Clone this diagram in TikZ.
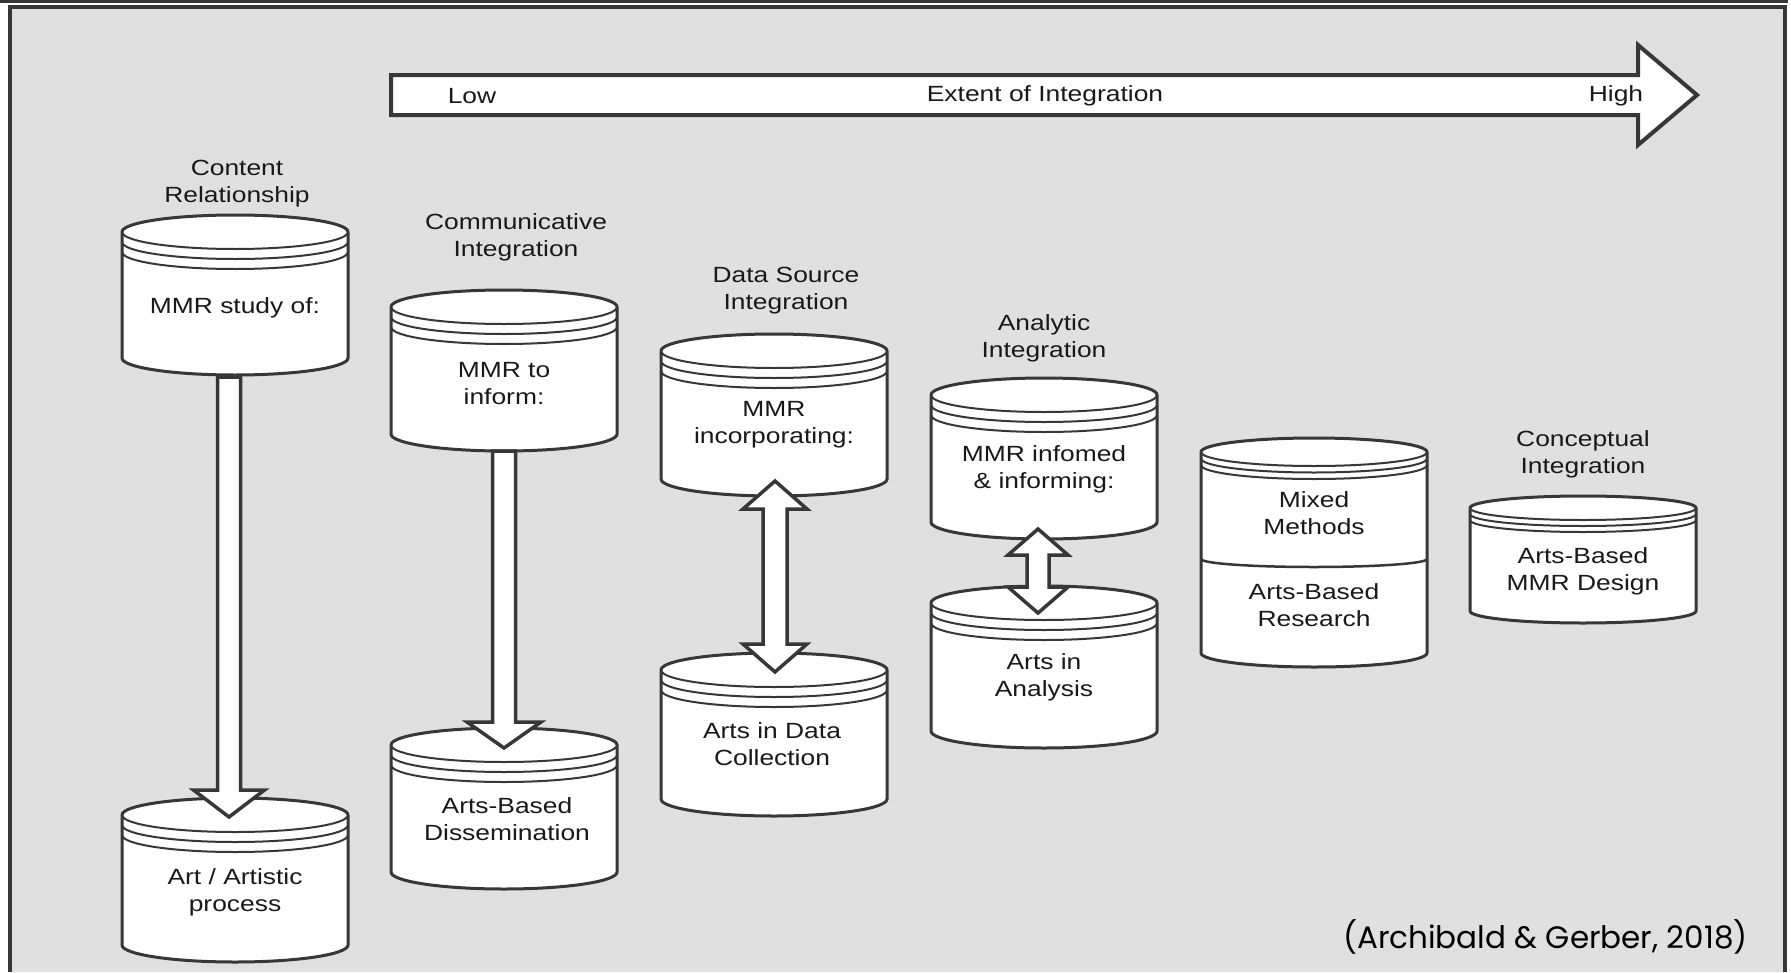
\documentclass[tikz,border=0pt]{standalone}
\usepackage{fontspec}
\setmainfont{Liberation Sans}[FakeStretch=1.2]
\newfontfamily\citefont{Poppins}
\usetikzlibrary{calc}

\definecolor{bggray}{RGB}{224,224,224}
\definecolor{linegray}{RGB}{55,55,55}
\definecolor{txtgray}{RGB}{25,25,25}

\tikzset{
  cylline/.style={draw=linegray, line width=3pt, fill=white},
  ringline/.style={draw=linegray, line width=2pt},
  blockarrow/.style={draw=linegray, line width=3.5pt, fill=white, line join=miter},
  lbl/.style={align=center, text=txtgray, inner sep=0pt,
    font=\fontsize{22}{27}\selectfont},
}

% name, centre x, top edge, bottom edge, ellipse radius, ring gap
\newcommand\cylinderat[6]{%
  \coordinate (#1-n) at (#2,#3);
  \coordinate (#1-s) at (#2,#4);
  \draw[cylline] (#2-113,#3+#5) arc[start angle=180,end angle=360,x radius=113,y radius=#5]
    -- (#2+113,#4-#5) arc[start angle=0,end angle=180,x radius=113,y radius=#5] -- cycle;
  \foreach \k in {0,1,2}
    \draw[ringline] (#2-113,#3+#5+\k*#6) arc[start angle=180,end angle=0,x radius=113,y radius=#5];
}
% from, tip, shaft half width, head half width, head length
\newcommand\blockdown[5]{%
  \draw[blockarrow] ($(#1)+(-#3,0)$) -- ($(#2)+(-#3,-#5)$) -- ($(#2)+(-#4,-#5)$) -- (#2)
    -- ($(#2)+(#4,-#5)$) -- ($(#2)+(#3,-#5)$) -- ($(#1)+(#3,0)$) -- cycle;
}
% upper tip, lower tip, shaft half width, head half width, head length
\newcommand\blockboth[5]{%
  \draw[blockarrow] (#1) -- ($(#1)+(#4,#5)$) -- ($(#1)+(#3,#5)$) -- ($(#2)+(#3,-#5)$)
    -- ($(#2)+(#4,-#5)$) -- (#2) -- ($(#2)+(-#4,-#5)$) -- ($(#2)+(-#3,-#5)$)
    -- ($(#1)+(-#3,#5)$) -- ($(#1)+(-#4,#5)$) -- cycle;
}

\begin{document}
\begin{tikzpicture}[x=1pt,y=-1pt]
  \useasboundingbox (0,0) rectangle (1791,972);
  % frame
  \fill[white] (0,0) rectangle (1791,972);
  \fill[linegray] (0,0) rectangle (1788,3);
  \fill[bggray] (10,7) rectangle (1785,972);
  \draw[linegray, line width=4pt] (10,972) -- (10,7) -- (1785,7) -- (1785,972);

  % scale arrow
  \coordinate (scalelow) at (391,95);
  \coordinate (scalehigh) at (1697,95);
  \draw[blockarrow, line width=4pt] ($(scalelow)+(0,-20)$) -- ($(scalehigh)+(-59,-20)$)
    -- ($(scalehigh)+(-59,-50)$) -- (scalehigh) -- ($(scalehigh)+(-59,50)$)
    -- ($(scalehigh)+(-59,20)$) -- ($(scalelow)+(0,20)$) -- cycle;
  \node[lbl] (low) at (472,96) {Low};
  \node[lbl] (extent) at (1045,96) {Extent of Integration};
  \node[lbl] (high) at (1616,96) {High};

  % cylinders
  \cylinderat{study}{235}{215}{375}{17}{10}
  \cylinderat{art}{235}{798}{962}{17}{10}
  \cylinderat{inform}{504}{290}{451}{17}{10}
  \cylinderat{dissem}{504}{728}{889}{17}{10}
  \cylinderat{incorp}{774}{334}{496}{17}{10}
  \cylinderat{collect}{774}{653}{816}{17}{10}
  \cylinderat{informing}{1044}{378}{539}{17}{10}
  \cylinderat{analysis}{1044}{586}{748}{17}{10}
  \cylinderat{mixed}{1314}{438}{667}{14}{6.5}
  \draw[ringline, line width=2.5pt] (1201,559) arc[start angle=180,end angle=0,x radius=113,y radius=8];
  \cylinderat{design}{1583}{496}{623}{12}{6}

  % column headings
  \node[lbl] (content) at (237,184) {Content\\Relationship};
  \node[lbl] (communic) at (516,237) {Communicative\\Integration};
  \node[lbl] (datasrc) at (786,291) {Data Source\\Integration};
  \node[lbl] (analytic) at (1044,338) {Analytic\\Integration};
  \node[lbl] (concept) at (1583,454) {Conceptual\\Integration};

  % cylinder texts
  \node[lbl] (studytxt) at (235,308) {MMR study of:};
  \node[lbl] (arttxt) at (235,892) {Art / Artistic\\process};
  \node[lbl] (informtxt) at (504,384) {MMR to\\inform:};
  \node[lbl] (dissemtxt) at (507,819) {Arts-Based\\Dissemination};
  \node[lbl] (incorptxt) at (774,425) {MMR\\incorporating:};
  \node[lbl] (collecttxt) at (772,744) {Arts in Data\\Collection};
  \node[lbl] (informingtxt) at (1044,469) {MMR infomed\\\& informing:};
  \node[lbl] (analysistxt) at (1044,677) {Arts in\\Analysis};
  \node[lbl] (mixedtxt) at (1314,513) {Mixed\\Methods};
  \node[lbl] (abrtxt) at (1314,605) {Arts-Based\\Research};
  \node[lbl] (designtxt) at (1583,571) {Arts-Based\\MMR Design};

  % arrows
  \coordinate (studyfoot) at (229,377);
  \coordinate (arttip) at (229,817);
  \coordinate (dissemtip) at (504,748);
  \blockdown{studyfoot}{arttip}{11.5}{35.5}{27}
  \blockdown{inform-s}{dissemtip}{11.5}{37}{26}
  \coordinate (incorptip) at (775,481);
  \coordinate (collecttip) at (775,672);
  \blockboth{incorptip}{collecttip}{12}{32}{28}
  \coordinate (informingtip) at (1038,529);
  \coordinate (analysistip) at (1038,613);
  \blockboth{informingtip}{analysistip}{11}{30}{26}

  % source
  \node[anchor=base east, inner sep=0pt, text=black, font=\citefont\fontsize{31}{34}\selectfont]
    (source) at (1748,948) {(Archibald \& Gerber, 2018)};
\end{tikzpicture}
\end{document}
